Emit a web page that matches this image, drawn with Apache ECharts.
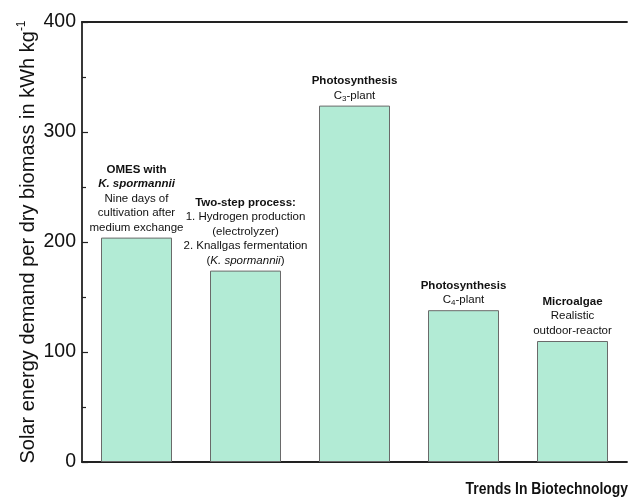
<!DOCTYPE html>
<html>
<head>
<meta charset="utf-8">
<script src="https://cdn.jsdelivr.net/npm/echarts@6/dist/echarts.min.js"></script>
<style>
html,body{margin:0;padding:0;background:#fff;}
#chart{width:628px;height:499px;}
</style>
</head>
<body>
<div id="chart"></div>
<script>
const categories = ['OMES', 'Two-step', 'C3-plant', 'C4-plant', 'Microalgae'];
const values = [204, 174, 324, 138, 110];
const barLabels = [
  '{b|OMES with}\n{bi|K. spormannii}\n{n|Nine days of}\n{n|cultivation after}\n{n|medium exchange}',
  '{b|Two-step process:}\n{n|1. Hydrogen production}\n{n|(electrolyzer)}\n{n|2. Knallgas fermentation}\n{n|(}{i|K. spormannii}{n|)}',
  '{b|Photosynthesis}\n{n|C}{sub|3}{n|-plant}',
  '{b|Photosynthesis}\n{n|C}{sub|4}{n|-plant}',
  '{b|Microalgae}\n{n|Realistic}\n{n|outdoor-reactor}'
];
const yTicks = [0, 100, 200, 300, 400];
const yName = '{t|Solar energy demand per dry biomass in kWh kg}{sup|-1}';
const credit = 'Trends In Biotechnology';

const FONT = 'Liberation Sans, Arial, sans-serif';
const fs = 11.5, lh = 14.5;
const rich = {
  b: {fontFamily: FONT, fontSize: fs, fontWeight: 'bold', lineHeight: lh, color: '#111'},
  bi: {fontFamily: FONT, fontSize: fs, fontWeight: 'bold', fontStyle: 'italic', lineHeight: lh, color: '#111'},
  n: {fontFamily: FONT, fontSize: fs, lineHeight: lh, color: '#111'},
  i: {fontFamily: FONT, fontSize: fs, fontStyle: 'italic', lineHeight: lh, color: '#111'},
  sub: {fontFamily: FONT, fontSize: 8, lineHeight: 9, verticalAlign: 'bottom', color: '#111'}
};

const chart = echarts.init(document.getElementById('chart'), null, {renderer: 'canvas'});
chart.setOption({
  animation: false,
  backgroundColor: '#fff',
  grid: {left: 82, right: 1, top: 22, bottom: 37},
  xAxis: [{
    type: 'category',
    data: categories,
    axisLine: {show: true, lineStyle: {color: '#222', width: 1.8}},
    axisTick: {show: false},
    axisLabel: {show: false},
    splitLine: {show: false}
  }, {
    type: 'category',
    position: 'top',
    data: categories,
    axisLine: {show: true, lineStyle: {color: '#222', width: 1.8}},
    axisTick: {show: false},
    axisLabel: {show: false}
  }],
  yAxis: {
    type: 'value',
    min: yTicks[0],
    max: yTicks[yTicks.length - 1],
    interval: 100,
    name: yName,
    nameLocation: 'middle',
    nameGap: 42,
    nameMoveOverlap: false,
    nameTextStyle: {
      rich: {
        t: {fontFamily: FONT, fontSize: 20, color: '#111', lineHeight: 24},
        sup: {fontFamily: FONT, fontSize: 12, color: '#111', lineHeight: 12, verticalAlign: 'top'}
      }
    },
    axisLine: {show: true, lineStyle: {color: '#222', width: 1.8}},
    axisTick: {show: true, inside: true, length: 6, lineStyle: {color: '#222', width: 1.2}},
    minorTick: {show: true, splitNumber: 2, length: 4, lineStyle: {color: '#222', width: 1.2}},
    axisLabel: {fontFamily: FONT, fontSize: 19.5, color: '#111', margin: 6},
    splitLine: {show: false}
  },
  series: [{
    type: 'bar',
    data: values,
    barWidth: 71,
    itemStyle: {color: '#b2ebd5', borderColor: '#6a6a6a', borderWidth: 1},
    label: {
      show: true,
      position: 'top',
      distance: 3,
      align: 'center',
      formatter: function (p) { return barLabels[p.dataIndex]; },
      rich: rich
    }
  }],
  graphic: [{
    type: 'text',
    x: 628,
    y: 489.5,
    scaleX: 0.87,
    style: {
      text: credit,
      fontFamily: FONT,
      fontWeight: 'bold',
      fontSize: 16,
      align: 'right',
      verticalAlign: 'middle',
      fill: '#111'
    }
  }]
});
</script>
</body>
</html>
